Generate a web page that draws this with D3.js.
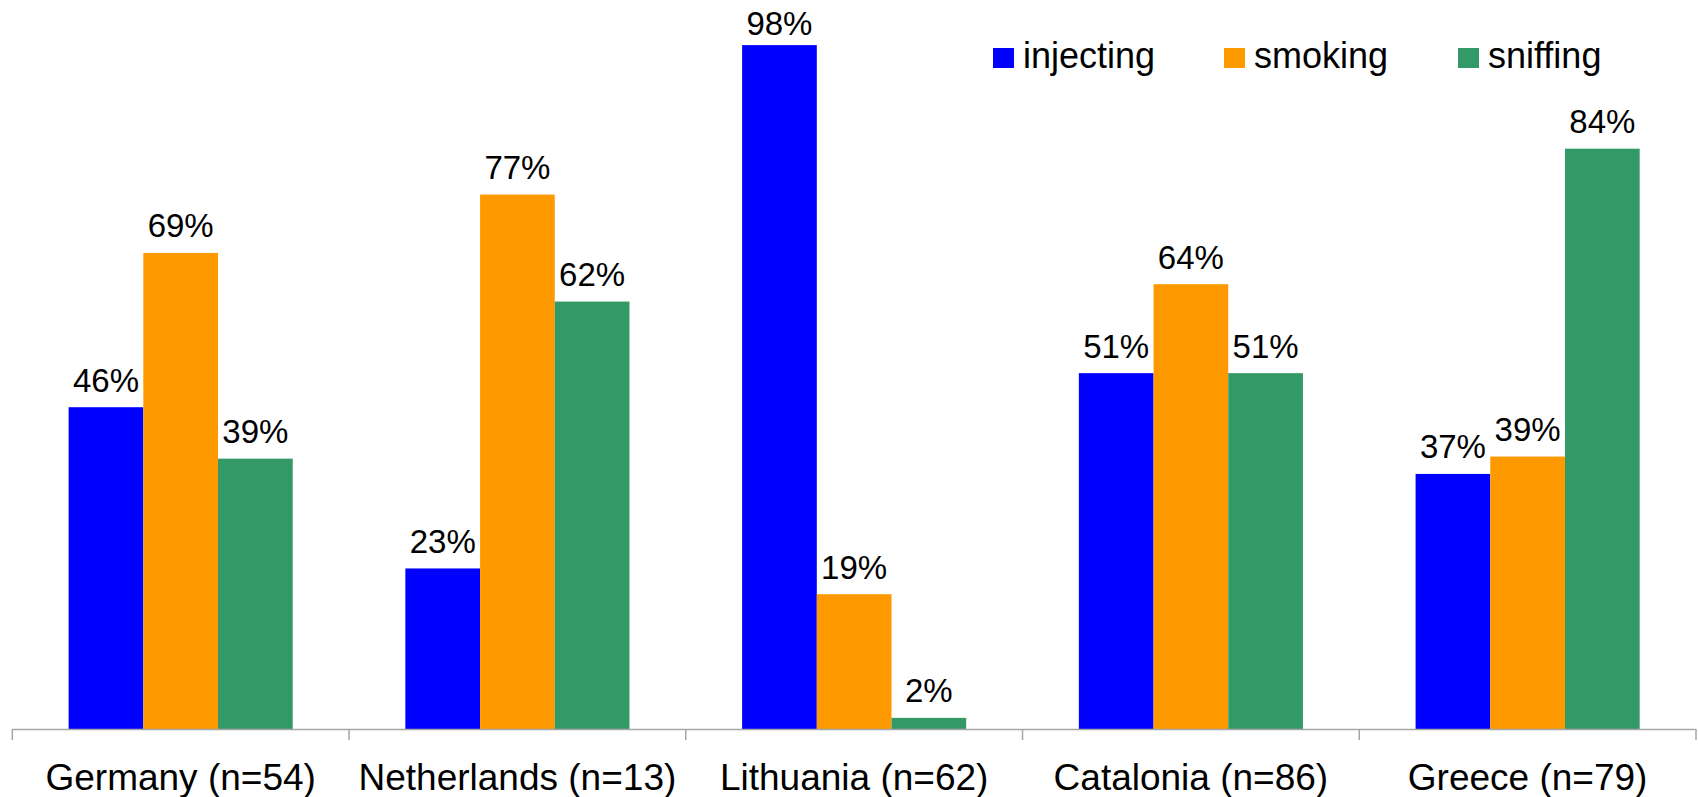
<!DOCTYPE html>
<html>
<head>
<meta charset="utf-8">
<script src="https://cdn.jsdelivr.net/npm/d3@7"></script>
<style>
  html, body { margin: 0; padding: 0; background: #fff; }
  svg { display: block; font-family: "Liberation Sans", Arial, sans-serif; }
</style>
</head>
<body>
<svg id="chart" width="1698" height="797"></svg>
<script>
const categories = ["Germany (n=54)", "Netherlands (n=13)", "Lithuania (n=62)", "Catalonia (n=86)", "Greece (n=79)"];
const seriesNames = ["injecting", "smoking", "sniffing"];
const injecting = [46.3, 23.1, 98.4, 51.2, 36.7];
const smoking   = [68.5, 76.9, 19.4, 64.0, 39.2];
const sniffing  = [38.9, 61.5, 1.6, 51.2, 83.5];
const seriesColors = ["#0000ff", "#ff9900", "#339966"];

const seriesValues = [injecting, smoking, sniffing];
const svg = d3.select("#chart");

const x0 = d3.scaleBand().domain(categories).range([12.3, 1696]).padding(0);
const x1 = d3.scaleBand().domain(seriesNames).range([0, x0.bandwidth()]).paddingInner(0).paddingOuter(0.754);
const y = d3.scaleLinear().domain([0, 100]).range([729, 34]);
const color = d3.scaleOrdinal().domain(seriesNames).range(seriesColors);

const rows = [];
categories.forEach((c, i) => {
  seriesNames.forEach((s, j) => rows.push({ cat: c, series: s, value: seriesValues[j][i] }));
});

// bars
svg.append("g").selectAll("rect").data(rows).join("rect")
  .attr("x", d => x0(d.cat) + x1(d.series))
  .attr("y", d => y(d.value))
  .attr("width", x1.bandwidth())
  .attr("height", d => y(0) - y(d.value))
  .attr("fill", d => color(d.series));

// value labels
svg.append("g").selectAll("text").data(rows).join("text")
  .attr("x", d => x0(d.cat) + x1(d.series) + x1.bandwidth() / 2)
  .attr("y", d => Math.max(y(d.value) - 15.5, 35))
  .attr("text-anchor", "middle")
  .attr("font-size", 33)
  .attr("fill", "#000")
  .text(d => Math.round(d.value) + "%");

// x axis
const axis = svg.append("g");
axis.append("line")
  .attr("x1", x0.range()[0]).attr("x2", x0.range()[1])
  .attr("y1", y(0) + 0.5).attr("y2", y(0) + 0.5)
  .attr("stroke", "#a6a6a6").attr("stroke-width", 1.5);
const tickPos = categories.map(c => x0(c)).concat([x0.range()[1]]);
axis.selectAll("line.tick").data(tickPos).join("line")
  .attr("class", "tick")
  .attr("x1", d => d).attr("x2", d => d)
  .attr("y1", y(0)).attr("y2", y(0) + 11)
  .attr("stroke", "#a6a6a6").attr("stroke-width", 1.5);
axis.selectAll("text").data(categories).join("text")
  .attr("x", d => x0(d) + x0.bandwidth() / 2)
  .attr("y", 790)
  .attr("text-anchor", "middle")
  .attr("font-size", 37)
  .attr("fill", "#000")
  .text(d => d);

// legend
const legendX = [993, 1224, 1458];
const legend = svg.append("g").selectAll("g").data(seriesNames).join("g")
  .attr("transform", (d, i) => `translate(${legendX[i]},0)`);
legend.append("rect")
  .attr("x", 0).attr("y", 48).attr("width", 21).attr("height", 20)
  .attr("fill", d => color(d));
legend.append("text")
  .attr("x", 30).attr("y", 68)
  .attr("font-size", 36)
  .attr("fill", "#000")
  .text(d => d);
</script>
</body>
</html>
